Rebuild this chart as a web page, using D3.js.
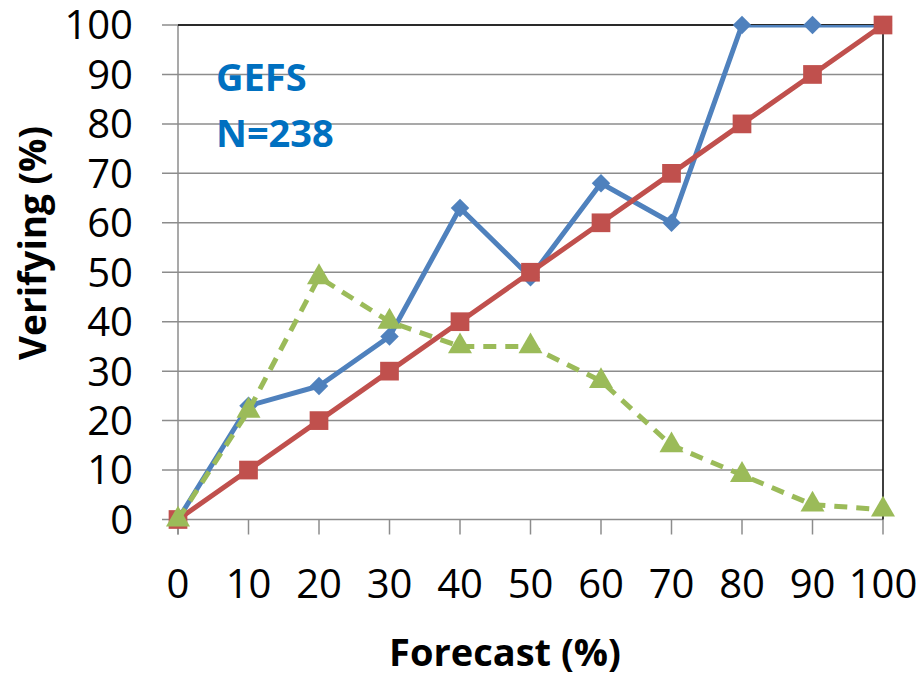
<!DOCTYPE html>
<html><head><meta charset="utf-8">
<script src="https://cdn.jsdelivr.net/npm/d3@7"></script>
<style>body{margin:0;background:#fff}svg{display:block}text{font-family:"Open Sans",sans-serif}</style>
</head><body>
<svg id="c" width="923" height="676"></svg>
<script>
const forecast = [0,10,20,30,40,50,60,70,80,90,100];
const gefsVerifying = [0,23,27,37,63,49,68,60,100,100,100];
const perfectReliability = [0,10,20,30,40,50,60,70,80,90,100];
const forecastFrequency = [0,22,49,40,35,35,28,15,9,3,2];
const xTicks = [0,10,20,30,40,50,60,70,80,90,100];
const yTicks = [0,10,20,30,40,50,60,70,80,90,100];

const svg = d3.select("#c");
const L=178, R=883, T=25, B=519.5;
const x = d3.scaleLinear().domain([0,100]).range([L,R]);
const y = d3.scaleLinear().domain([0,100]).range([B,T]);

svg.append("defs").append("clipPath").attr("id","pa")
  .append("rect").attr("x",L-20).attr("y",T).attr("width",R-L+40).attr("height",B-T+20);

// gridlines
svg.append("g").selectAll("line").data(yTicks).join("line")
  .attr("x1",L-16).attr("x2",R).attr("y1",d=>y(d)).attr("y2",d=>y(d))
  .attr("stroke","#8c8c8c").attr("stroke-width",1.5);
// x ticks
svg.append("g").selectAll("line").data(xTicks).join("line")
  .attr("x1",d=>x(d)).attr("x2",d=>x(d)).attr("y1",B).attr("y2",B+15)
  .attr("stroke","#8c8c8c").attr("stroke-width",1.5);
// left axis
svg.append("line").attr("x1",L).attr("x2",L).attr("y1",T).attr("y2",B+15).attr("stroke","#8c8c8c").attr("stroke-width",1.5);
// top & right border
svg.append("path").attr("d",`M${L},${T}H${R}V${B}`).attr("fill","none").attr("stroke","#000").attr("stroke-width",1.5);

// tick labels
svg.append("g").selectAll("text").data(yTicks).join("text")
  .attr("x",133).attr("y",d=>y(d)).attr("dy","0.36em").attr("text-anchor","end")
  .attr("font-size",40).text(d=>d);
svg.append("g").selectAll("text").data(xTicks).join("text")
  .attr("x",d=>x(d)).attr("y",598).attr("text-anchor","middle")
  .attr("font-size",40).text(d=>d);

// axis titles
svg.append("text").attr("x",505).attr("y",666).attr("text-anchor","middle")
  .attr("font-size",38).attr("font-weight","bold").text("Forecast (%)");
svg.append("text").attr("transform","translate(46,243) rotate(-90)").attr("text-anchor","middle")
  .attr("font-size",37).attr("font-weight","bold").text("Verifying (%)");

// annotation
svg.append("text").attr("x",216).attr("y",91).attr("font-size",38).attr("font-weight","bold").attr("fill","#0070C0").text("GEFS");
svg.append("text").attr("x",216).attr("y",147).attr("font-size",38).attr("font-weight","bold").attr("fill","#0070C0").text("N=238");

const line = vals => d3.line().x((d,i)=>x(forecast[i])).y(d=>y(d))(vals);
const series = [
  {vals:gefsVerifying, color:"#4F81BD", sym:d3.symbolSquare, size:170, rot:45, dash:null},
  {vals:perfectReliability, color:"#C0504D", sym:d3.symbolSquare, size:350, rot:0, dash:null},
  {vals:forecastFrequency, color:"#9BBB59", sym:d3.symbolTriangle, size:250, rot:0, dash:"13,9"}
];
series.forEach(s=>{
  svg.append("path").attr("d",line(s.vals)).attr("fill","none").attr("stroke",s.color)
    .attr("stroke-width",5).attr("stroke-dasharray",s.dash).attr("stroke-linejoin","round")
    .attr("clip-path","url(#pa)");
  svg.append("g").selectAll("path").data(s.vals).join("path")
    .attr("transform",(d,i)=>`translate(${x(forecast[i])},${y(d)}) rotate(${s.rot})`)
    .attr("d",d3.symbol().type(s.sym).size(s.size)).attr("fill",s.color);
});
</script>
</body></html>
